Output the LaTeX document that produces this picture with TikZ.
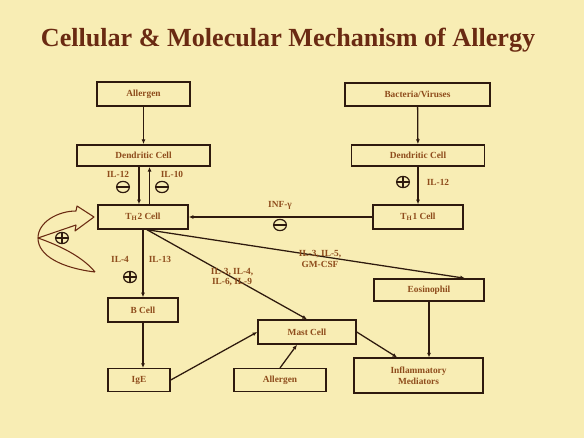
\documentclass[tikz,border=0pt]{standalone}
\usepackage{fontspec}
\setmainfont{Liberation Serif}
\usetikzlibrary{arrows.meta}
\definecolor{paper}{HTML}{F8EDB4}
\definecolor{titlebrown}{HTML}{6A2A12}
\definecolor{labbrown}{HTML}{8E4C1C}
\definecolor{edge}{HTML}{2E1A0E}
\tikzset{
  cellbox/.style={draw=edge, line width=1.1pt, fill=paper, text=labbrown,
    font=\fontsize{7}{8}\selectfont\bfseries, inner sep=1pt, align=center},
  lab/.style={text=labbrown, font=\fontsize{7}{8}\selectfont\bfseries, align=center, inner sep=0pt},
  link/.style={draw=edge, line width=0.95pt, -{Latex[length=3.5pt,width=3pt]}},
  mnus/.pic={\draw[edge, line width=0.9pt] (0,0) ellipse (4.8pt and 4.2pt);
             \draw[edge, line width=0.9pt] (-4.8pt,0) -- (4.8pt,0);},
  plss/.pic={\draw[edge, line width=0.9pt] (0,0) ellipse (4.8pt and 4.2pt);
             \draw[edge, line width=0.9pt] (-4.8pt,0) -- (4.8pt,0) (0,-4.2pt) -- (0,4.2pt);}
}
\begin{document}
\begin{tikzpicture}[x=0.75pt, y=-0.75pt]
    % Background
    \fill[paper] (0,0) rectangle (584,438);
    \useasboundingbox (0,0) rectangle (584,438);

    % Title
    \node[text=titlebrown, font=\fontsize{19.6}{22}\selectfont\bfseries] (title) at (288,40)
        {Cellular \& Molecular Mechanism of Allergy};

    % Boxes
    \node[cellbox, minimum width=70pt, minimum height=18pt] (allergenA) at (143.5,94) {Allergen};
    \node[cellbox, minimum width=109pt, minimum height=17pt] (bact) at (417.5,94.5) {Bacteria/Viruses};
    \node[cellbox, minimum width=100pt, minimum height=16pt] (dcL) at (143.5,155.5) {Dendritic Cell};
    \node[cellbox, minimum width=100pt, minimum height=16pt] (dcR) at (418,155.5) {Dendritic Cell};
    \node[cellbox, minimum width=67.5pt, minimum height=18pt] (th2) at (143,217) {T\textsubscript{H}2 Cell};
    \node[cellbox, minimum width=67.5pt, minimum height=18pt] (th1) at (418,217) {T\textsubscript{H}1 Cell};
    \node[cellbox, minimum width=82.5pt, minimum height=16.5pt] (eos) at (429,290) {Eosinophil};
    \node[cellbox, minimum width=52.5pt, minimum height=18pt] (bcell) at (143,310) {B Cell};
    \node[cellbox, minimum width=73.5pt, minimum height=18pt] (mast) at (307,332) {Mast Cell};
    \node[cellbox, minimum width=46.5pt, minimum height=17pt] (ige) at (139,380) {IgE};
    \node[cellbox, minimum width=69pt, minimum height=17pt] (allergenB) at (280,380) {Allergen};
    \node[cellbox, minimum width=97pt, minimum height=26pt] (infl) at (418.5,375.5) {Inflammatory\\Mediators};

    % Connectors
    \draw[link] (allergenA) -- (dcL);
    \draw[link] (bact) -- (dcR);
    \draw[link] ([xshift=-3.4pt]dcL.south) -- ([xshift=-3.4pt]dcL.south |- th2.north);
    \draw[link] ([xshift=4.9pt]th2.north) -- ([xshift=4.9pt]th2.north |- dcL.south);
    \draw[link] (dcR) -- (th1);
    \draw[link] (th1) -- (th2);
    \draw[link] (th2) -- (bcell);
    \draw[link] ([xshift=3pt]th2.south) -- ([xshift=27pt]eos.north);
    \draw[link] ([xshift=3pt]th2.south) -- (mast.north);
    \draw[link] (bcell) -- (bcell |- ige.north);
    \draw[link] (ige.east) -- (mast.west);
    \draw[link] (allergenB.north) -- ([xshift=-7.5pt]mast.south);
    \draw[link] (mast.east) -- ([xshift=-16pt]infl.north);
    \draw[link] (eos.south) -- (eos.south |- infl.north);

    % Labels
    \node[lab] (il12L) at (118,174) {IL-12};
    \node[lab] (il10) at (172,174) {IL-10};
    \node[lab] (il12R) at (438,182) {IL-12};
    \node[lab] (inf) at (280,205) {INF-γ};
    \node[lab] (il4) at (120,259) {IL-4};
    \node[lab] (il13) at (160,259) {IL-13};
    \node[lab] (ilEos) at (320,259) {IL-3, IL-5,\\GM-CSF};
    \node[lab] (ilMast) at (232,277) {IL-3, IL-4,\\IL-6, IL-9};

    % Signs
    \pic at (123,187) {mnus};
    \pic at (162,187) {mnus};
    \pic at (403,182) {plss};
    \pic at (280,225) {mnus};
    \pic at (130,277) {plss};
    \pic at (62,238) {plss};

    % Curved self arrow
    \draw[titlebrown, line width=0.8pt, line join=round]
        (95,272) .. controls (62,268) and (38,256) .. (38,238)
        .. controls (38,222) and (58,211) .. (76,211)
        -- (77,206) -- (94,217) -- (75,231) -- (76,225) -- (38,238)
        .. controls (58,245) and (82,256) .. (95,272);
\end{tikzpicture}
\end{document}
